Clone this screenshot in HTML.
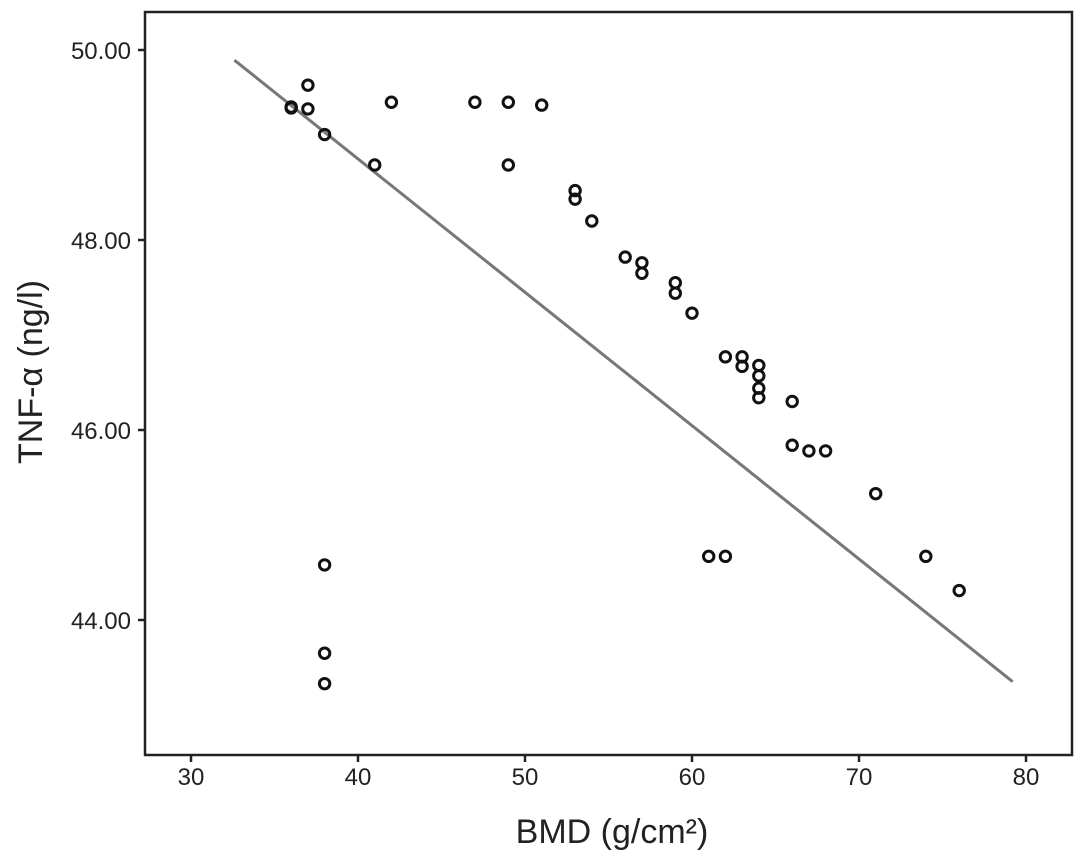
<!DOCTYPE html>
<html><head><meta charset="utf-8"><style>
html,body{margin:0;padding:0;background:#fff;}
svg{display:block;font-family:"Liberation Sans",Arial,sans-serif;}
</style></head><body>
<svg id="chart" width="1087" height="862" viewBox="0 0 1087 862" xmlns="http://www.w3.org/2000/svg">
<rect x="145" y="12" width="927" height="743" fill="#fff" stroke="#222" stroke-width="2.5"/>
<g id="xticks"></g>
<g id="yticks"></g>
<g id="fit"></g>
<g id="pts"></g>
<text x="612" y="843" font-size="34" text-anchor="middle" fill="#222">BMD (g/cm²)</text>
<text transform="translate(42,372) rotate(-90)" font-size="34" text-anchor="middle" fill="#222">TNF-α (ng/l)</text>
</svg>
<script>
const xTicks=[30,40,50,60,70,80];
const yTicks=[50,48,46,44];
const yTickLabels=["50.00","48.00","46.00","44.00"];
const bmd=[36,36,37,37,38,41,42,47,49,49,51,53,53,54,56,57,57,59,59,60,62,63,63,64,64,64,64,66,66,67,68,71,61,62,74,76,38,38,38];
const tnf=[49.40,49.39,49.63,49.38,49.11,48.79,49.45,49.45,49.45,48.79,49.42,48.52,48.43,48.20,47.82,47.76,47.65,47.55,47.44,47.23,46.77,46.77,46.67,46.68,46.57,46.44,46.34,46.30,45.84,45.78,45.78,45.33,44.67,44.67,44.67,44.31,44.58,43.65,43.33];
const fitX=[32.6,79.2];
const fitSlope=-0.1404, fitIntercept=54.47;
const NS="http://www.w3.org/2000/svg";
const sx=v=>191+(v-30)*(1026-191)/50;
const sy=v=>50+(50-v)*95;
function mk(tag,attrs,parent){const e=document.createElementNS(NS,tag);for(const k in attrs)e.setAttribute(k,attrs[k]);parent.appendChild(e);return e;}
const gx=document.getElementById('xticks'),gy=document.getElementById('yticks'),gf=document.getElementById('fit'),gp=document.getElementById('pts');
xTicks.forEach(t=>{
  const l=mk('line',{x1:sx(t),x2:sx(t),y1:755,y2:762,stroke:'#222','stroke-width':2.5},gx);
  
  
  const tx=mk('text',{x:sx(t),y:785,'font-size':24,'text-anchor':'middle',fill:'#222'},gx);
  tx.textContent=t;
  
  
});
yTicks.forEach((t,i)=>{
  const l=mk('line',{x1:138,x2:145,y1:sy(t),y2:sy(t),stroke:'#222','stroke-width':2.5},gy);
  
  
  const tx=mk('text',{x:131,y:sy(t)+9,'font-size':24,'text-anchor':'end',fill:'#222'},gy);
  tx.textContent=yTickLabels[i];
  
  
});
const fl=mk('line',{x1:sx(fitX[0]),y1:sy(fitIntercept+fitSlope*fitX[0]),x2:sx(fitX[1]),y2:sy(fitIntercept+fitSlope*fitX[1]),stroke:'#777','stroke-width':3},gf);


bmd.forEach((v,i)=>{
  const c=mk('circle',{cx:sx(v),cy:sy(tnf[i]),r:5.2,fill:'none',stroke:'#111','stroke-width':3},gp);
  
  
});
</script>
</body></html>
